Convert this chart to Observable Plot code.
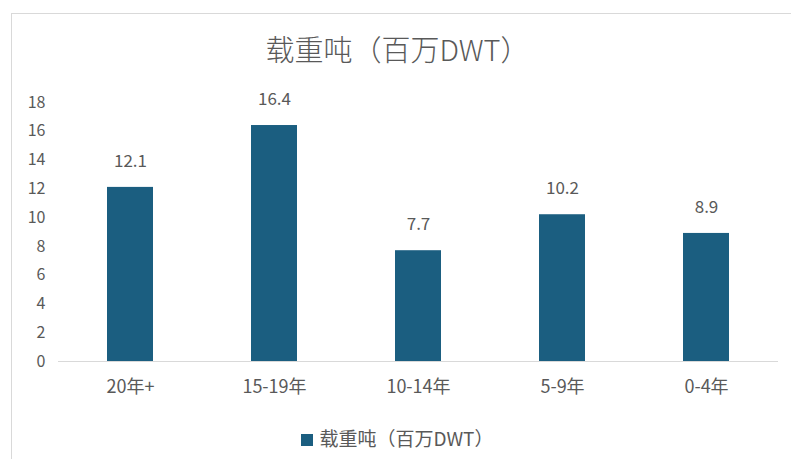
<!DOCTYPE html>
<html>
<head>
<meta charset="utf-8">
<script src="https://cdn.jsdelivr.net/npm/d3@7"></script>
<script src="https://cdn.jsdelivr.net/npm/@observablehq/plot@0.6"></script>
<style>
  html, body { margin: 0; padding: 0; background: #fff; }
  body { width: 791px; height: 459px; overflow: hidden; position: relative;
         font-family: "Noto Sans CJK SC", "Noto Sans", sans-serif; color: #595959; }
  #frame { position: absolute; left: 11px; top: 13px; width: 800px; height: 470px;
           border: 1px solid #d9d9d9; box-sizing: border-box; }
  #title { position: absolute; left: 2px; top: 28px; width: 791px; text-align: center;
           font-size: 29px; line-height: 40px; color: #595959; font-weight: 300; }
  #chart { position: absolute; left: 0; top: 80px; }
  #legend { position: absolute; left: 2px; top: 426px; width: 791px; text-align: center;
            font-size: 19px; line-height: 24px; color: #595959; }
  #legend .sw { display: inline-block; width: 12px; height: 12px; background: #1b5e80;
                margin-right: 6px; vertical-align: 0px; }
</style>
</head>
<body>
<div id="frame"></div>
<div id="title">载重吨（百万DWT）</div>
<div id="chart"></div>
<div id="legend"><span class="sw"></span>载重吨（百万DWT）</div>
<script>
const categories = ["20年+", "15-19年", "10-14年", "5-9年", "0-4年"];
const values = [12.1, 16.4, 7.7, 10.2, 8.9];
const yTicks = [0, 2, 4, 6, 8, 10, 12, 14, 16, 18];
const seriesName = "载重吨（百万DWT）";

const data = categories.map((c, i) => ({ category: c, value: values[i] }));
const barColor = "#1b5e80";
const textColor = "#595959";

const chart = Plot.plot({
  width: 791,
  height: 325,
  marginTop: 22,
  marginBottom: 44,
  marginLeft: 58,
  marginRight: 13,
  style: { fontFamily: '"Noto Sans CJK SC", "Noto Sans", sans-serif', color: textColor, background: "transparent" },
  x: { domain: categories, paddingInner: 0.68, paddingOuter: 0.34, label: null },
  y: { domain: [0, 18], ticks: yTicks, label: null },
  marks: [
    Plot.axisY({ ticks: yTicks, tickSize: 0, tickPadding: 13, fontSize: 16, fill: textColor, label: null }),
    Plot.axisX({ tickSize: 0, tickPadding: 19, fontSize: 18, fill: textColor, label: null }),
    Plot.barY(data, { x: "category", y: "value", fill: barColor }),
    Plot.ruleY([0], { stroke: "#d9d9d9", strokeWidth: 1 }),
    Plot.text(data, { x: "category", y: "value", text: d => d.value.toFixed(1), dy: -26, fontSize: 17, fill: textColor })
  ]
});
document.getElementById("chart").appendChild(chart);
</script>
</body>
</html>
